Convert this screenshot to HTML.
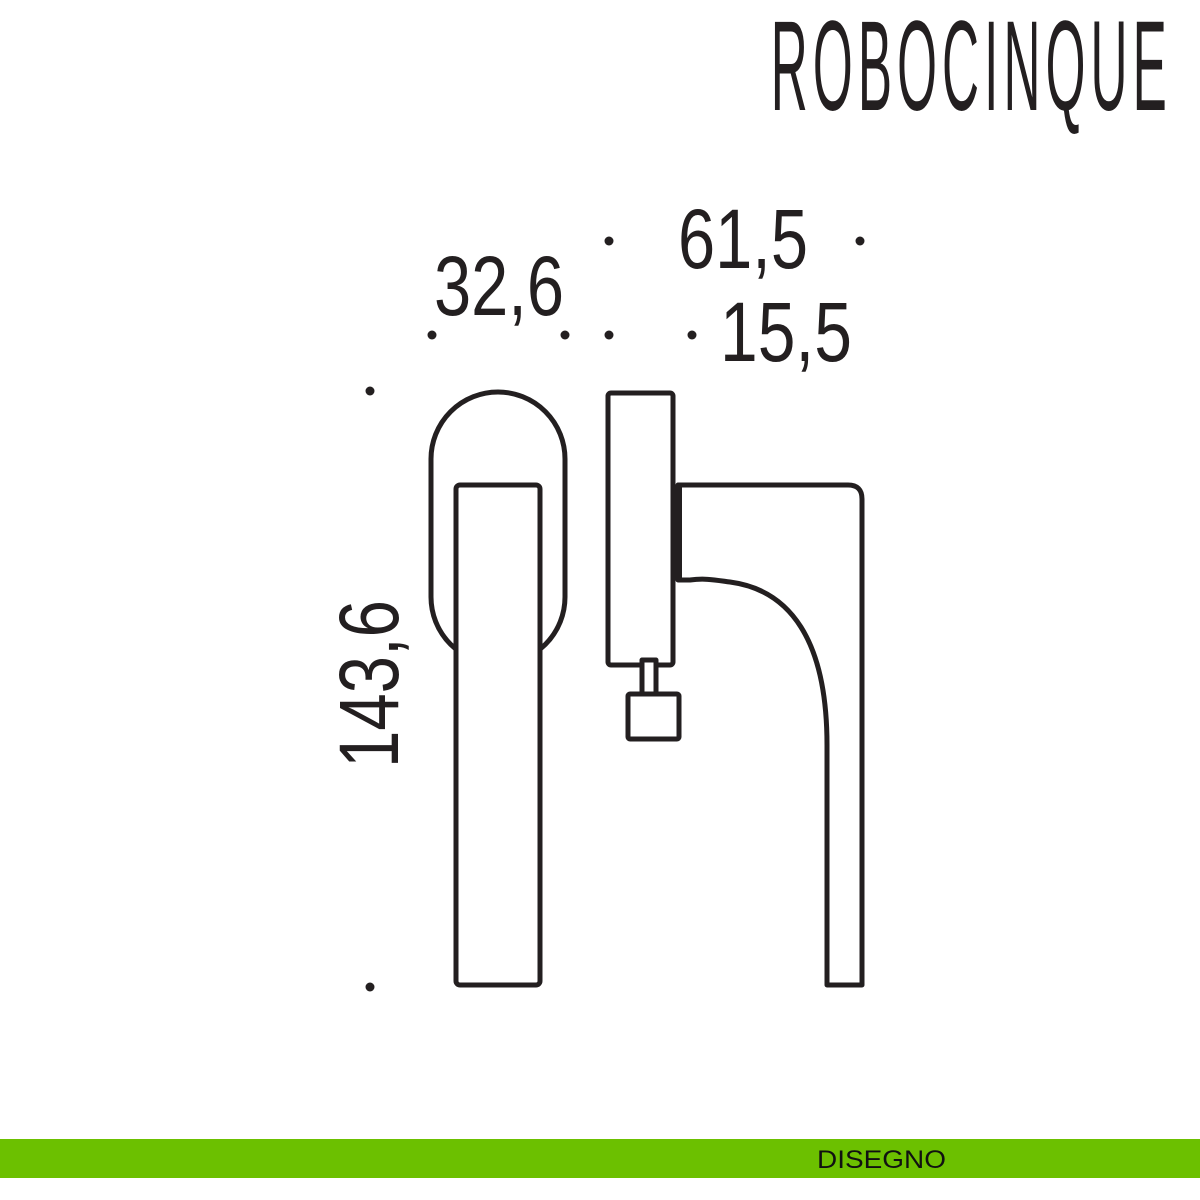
<!DOCTYPE html>
<html><head><meta charset="utf-8"><style>
html,body{margin:0;padding:0;background:#fff;}
svg{display:block;}
</style></head><body>
<svg width="1200" height="1200" viewBox="0 0 1200 1200" xmlns="http://www.w3.org/2000/svg">
<rect width="1200" height="1200" fill="#fff"/>
<text transform="scale(0.4,1)" x="1927" y="110" font-family="Liberation Sans, sans-serif" font-size="128" fill="#231f20" textLength="990" lengthAdjust="spacing">ROBOCINQUE</text>
<g font-family="Liberation Sans, sans-serif" font-size="84" fill="#231f20">
<text x="678" y="268" textLength="130" lengthAdjust="spacingAndGlyphs">61,5</text>
<text x="434" y="315" textLength="130" lengthAdjust="spacingAndGlyphs">32,6</text>
<text x="720" y="361" textLength="132" lengthAdjust="spacingAndGlyphs">15,5</text>
<text transform="translate(398,768) rotate(-90)" x="0" y="0" textLength="168" lengthAdjust="spacingAndGlyphs">143,6</text>
</g>
<g fill="#231f20">
<circle cx="432" cy="335" r="4.5"/><circle cx="565" cy="335" r="4.5"/>
<circle cx="609" cy="241" r="4.5"/><circle cx="609" cy="335" r="4.5"/>
<circle cx="692" cy="335" r="4.5"/><circle cx="860" cy="241" r="4.5"/>
<circle cx="370" cy="391" r="4.5"/><circle cx="370" cy="987" r="4.5"/>
</g>
<g fill="#fff" stroke="#231f20" stroke-width="5" stroke-linejoin="round">
<rect x="431" y="392" width="134" height="272" rx="67" ry="67"/>
<rect x="456" y="485" width="84" height="500" rx="4"/>
<path d="M678 485 L848 485 Q862 485 862 499 L862 985 L827 985 L827 745 C827 640 790 590 730 582 C715 580 705 578 690 580 L678 580 Z"/>
<rect x="608" y="393" width="65" height="272" rx="3"/>
<rect x="642" y="660" width="14" height="34"/>
<rect x="628" y="694" width="51" height="45" rx="2"/>
</g>
<line x1="678" y1="485" x2="678" y2="580" stroke="#231f20" stroke-width="8"/>
<rect x="0" y="1139" width="1200" height="39" fill="#6cc000"/>
<text x="817" y="1168" font-family="Liberation Sans, sans-serif" font-size="25" fill="#111" textLength="129" lengthAdjust="spacingAndGlyphs">DISEGNO</text>
</svg>
</body></html>
